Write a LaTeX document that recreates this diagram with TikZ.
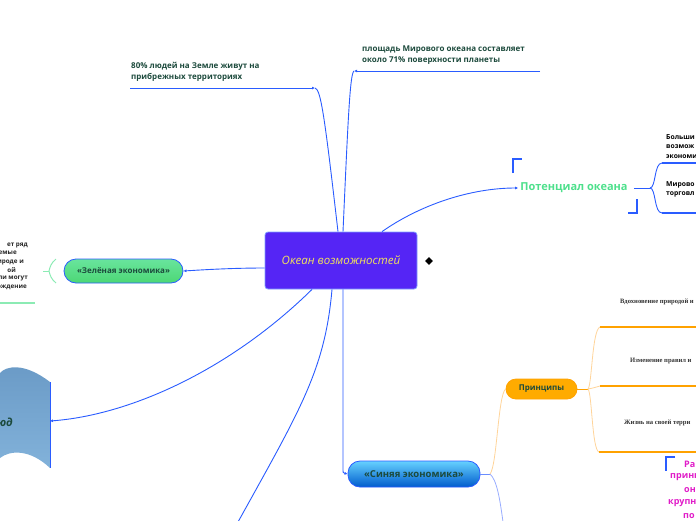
\documentclass[tikz,border=0pt]{standalone}
\usepackage{fontspec}
\setmainfont{Open Sans}
\newfontfamily\smallserif{Liberation Serif}
\usepackage{xcolor}
\usetikzlibrary{arrows.meta,positioning,shapes.geometric}

\definecolor{linkblue}{HTML}{2A5CFF}
\definecolor{darkgreen}{HTML}{1C4A3C}
\definecolor{oceanfill}{HTML}{5525F5}
\definecolor{oceantext}{HTML}{F2E35A}
\definecolor{potgreen}{HTML}{4EE08C}
\definecolor{softgreen}{HTML}{8CEBB4}
\definecolor{softorange}{HTML}{FFD49A}
\definecolor{softblue}{HTML}{98ACFF}
\definecolor{deeporange}{HTML}{FFA200}
\definecolor{pink}{HTML}{E01CC8}
\definecolor{docdark}{HTML}{6A9AC6}
\definecolor{doclight}{HTML}{82B2DA}

\begin{document}
\begin{tikzpicture}[x=1pt,y=-1pt,
    conn/.style={linkblue, line width=0.9pt},
    tip/.style={-{Latex[length=3pt,width=3pt]}},
    fact/.style={text=darkgreen, font=\fontsize{8}{11}\selectfont\bfseries, align=left, inner sep=0pt},
    pill/.style={rounded corners=12pt, draw=linkblue, line width=0.8pt, inner sep=0pt, text=darkgreen},
    minor/.style={font=\fontsize{6.8}{9.5}\selectfont\bfseries, align=left, inner sep=0pt},
    serifnote/.style={font=\smallserif\fontsize{6.6}{8}\selectfont\bfseries, text=black!80, inner sep=0pt},
    bracket/.style={linkblue, line width=1.3pt}]
    \useasboundingbox (0,0) rectangle (696,520);

    % central topic
    \node[fill=oceanfill, draw=linkblue!60, line width=0.8pt, rounded corners=3pt,
          minimum width=152pt, minimum height=57pt, text=oceantext,
          font=\fontsize{11.5}{13}\selectfont\itshape] (ocean) at (341,260.5) {Океан возможностей};
    \node[diamond, fill=black, minimum size=8pt, inner sep=0pt] (more) at (429,261) {};

    % facts at the top
    \node[fact, anchor=north west] (people) at (131,62) {80\% людей на Земле живут на\\прибрежных территориях};
    \coordinate (peopleL) at (130,88);
    \coordinate (peopleJ) at (315,88);
    \draw[conn,tip] (peopleL) -- (peopleJ);
    \draw[conn] (peopleJ) .. controls (321,89) and (325,120) .. ([xshift=-3pt]ocean.north);

    \node[fact, anchor=north west] (area) at (362,46) {площадь Мирового океана составляет\\около 71\% поверхности планеты};
    \coordinate (areaR) at (540,71);
    \coordinate (areaJ) at (354,71);
    \draw[conn,tip] (areaR) -- (areaJ);
    \draw[conn] (areaJ) .. controls (350,73) and (348,120) .. ([xshift=2pt]ocean.north);

    % potential of the ocean
    \node[text=potgreen, font=\fontsize{11}{13}\selectfont\bfseries, inner sep=2pt] (pot) at (574,188) {Потенциал океана};
    \draw[conn,tip] ([xshift=41pt]ocean.north) .. controls (420,205) and (470,188) .. (pot.west);
    \draw[bracket] (513,173) |- (522,159);
    \draw[bracket] (628,213) -| (637,199);
    \coordinate (potJ) at (650,188);
    \coordinate (bigL) at (662,163);
    \coordinate (tradeL) at (662,213);
    \draw[conn] ([xshift=4pt]pot.east) -- (potJ);
    \draw[conn] (potJ) .. controls (656,188) and (654,163) .. (bigL);
    \draw[conn] (potJ) .. controls (656,188) and (654,213) .. (tradeL);
    \draw[bracket] (bigL) -- (696,163);
    \draw[bracket] (tradeL) -- (696,213);
    \node[minor, anchor=north west] (big) at (666,134) {Больши\\возмож\\экономи};
    \node[minor, anchor=north west] (trade) at (666,181) {Мирово\\торговл};

    % green economy
    \node[pill, top color=potgreen!85!white, bottom color=green!55!teal!70,
          minimum width=119pt, minimum height=24pt,
          font=\fontsize{8}{10}\selectfont\bfseries] (green) at (123.5,271) {«Зелёная экономика»};
    \draw[conn,tip] ([yshift=-7.5pt]ocean.west) .. controls (230,268) and (200,270) .. (green.east);
    \draw[softgreen, line width=1pt] (56,259) .. controls (51,263) and (50,267) .. (49,271)
        .. controls (50,275) and (51,279) .. (56,283);
    \draw[softgreen, line width=1pt] (43,271) -- (49,271);
    \draw[softgreen, line width=1.3pt] (0,303) -- (35,303);
    \foreach \y/\x/\t in {245/28/ет ряд, 253/17/емые, 262/24/рироде и, 270/16/ой, 278/28/ли могут, 287/27/ождение}
        \node[minor, anchor=east, text=black!85, font=\fontsize{6.3}{8}\selectfont\bfseries] at (\x,\y) {\t};

    % approach (document shape)
    \shade[top color=docdark, bottom color=doclight]
        (0,373) .. controls (6,366) and (24,362) .. (50,382) -- (50,468)
        .. controls (30,449) and (10,450) .. (0,458) -- cycle;
    \draw[linkblue, line width=0.8pt] (50,382) -- (50,468);
    \node[anchor=base east, text=darkgreen, inner sep=0pt,
          font=\fontsize{11}{13}\selectfont\bfseries\itshape] (approach) at (13,426) {юд};
    \coordinate (docR) at (50,421);
    \draw[conn,tip] ([xshift=-29pt]ocean.south) .. controls (230,370) and (130,415) .. (docR);

    % branch leaving the page
    \coordinate (offBottom) at (238,522);
    \draw[conn] ([xshift=-9pt]ocean.south) .. controls (325,370) and (300,410) .. (offBottom);

    % blue economy
    \node[pill, top color=cyan!70!blue!60, bottom color=blue!55!cyan!80!black,
          minimum width=132pt, minimum height=26pt,
          font=\fontsize{9.5}{11}\selectfont\bfseries] (blue) at (414,474) {«Синяя экономика»};
    \draw[conn,tip] ([xshift=2pt]ocean.south) -- (343,468) .. controls (343,473) .. (blue.west);

    % principles
    \node[pill, rounded corners=10pt, fill=deeporange!90!yellow, draw=deeporange,
          minimum width=71pt, minimum height=20pt,
          font=\fontsize{8}{10}\selectfont\bfseries] (princ) at (541.5,389) {Принципы};
    \coordinate (blueJ) at (490,474);
    \draw[conn, line width=0.6pt, linkblue!70] (blue.east) -- (blueJ);
    \draw[softorange, line width=0.8pt] (blueJ) .. controls (497,466) and (498,395) .. (princ.west);
    \draw[softblue, line width=0.8pt] (blueJ) .. controls (497,480) and (500,500) .. (503,522);

    \coordinate (princJ) at (588,389);
    \coordinate (natureL) at (600,327);
    \coordinate (rulesL) at (600,386);
    \coordinate (homeL) at (599,452);
    \draw[deeporange, line width=1pt] (princ.east) -- (princJ);
    \draw[softorange, line width=0.8pt] (princJ) .. controls (592,385) and (592,330) .. (natureL);
    \draw[softorange, line width=0.8pt] (princJ) .. controls (593,388) .. (rulesL);
    \draw[softorange, line width=0.8pt] (princJ) .. controls (592,393) and (592,450) .. (homeL);
    \draw[deeporange, line width=1.5pt] (natureL) -- (696,327);
    \draw[deeporange, line width=1.5pt] (rulesL) -- (696,386);
    \draw[deeporange, line width=1.5pt] (homeL) -- (696,452);
    \node[serifnote, anchor=west] (nature) at (620,302) {Вдохновение природой и};
    \node[serifnote, anchor=west] (rules) at (630,361) {Изменение правил и};
    \node[serifnote, anchor=west] (home) at (624,423) {Жизнь на своей терри};

    % pink note
    \draw[linkblue, line width=1.2pt] (675,457) -| (666,471);
    \foreach \y/\x/\t in {464/684/Ра, 477/670/принц, 490/684/он, 503/668/крупн, 516/683/по}
        \node[anchor=west, text=pink, inner sep=0pt, font=\fontsize{9}{11}\selectfont\bfseries] at (\x,\y) {\t};
\end{tikzpicture}
\end{document}
